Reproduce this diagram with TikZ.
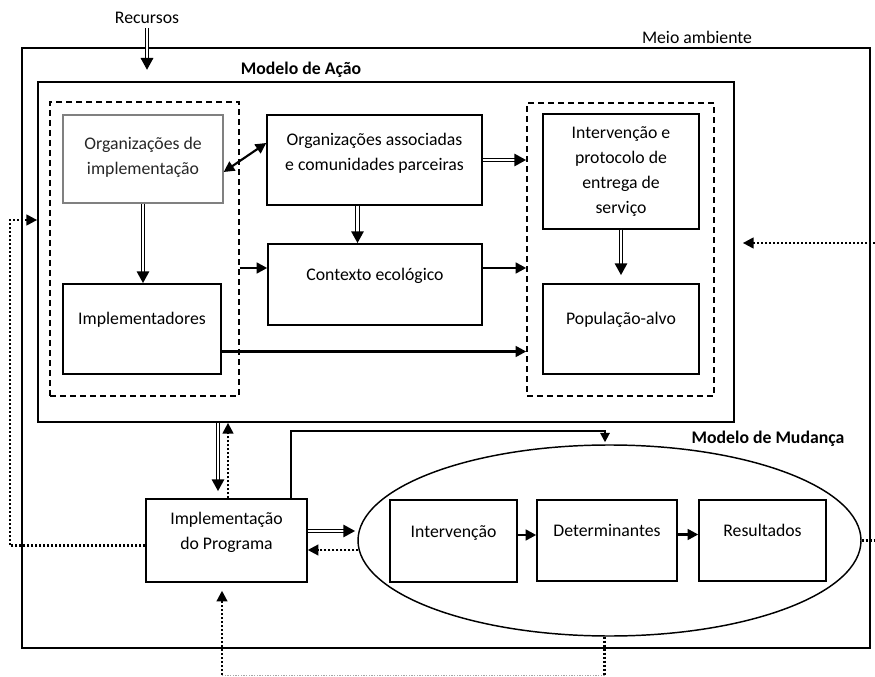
\documentclass[tikz,border=0pt]{standalone}
\usepackage{fontspec}
\setmainfont{Carlito}
\usetikzlibrary{arrows.meta,shapes.geometric,calc,decorations.markings}

\begin{document}
\begin{tikzpicture}[x=0.75pt,y=-0.75pt,
  font=\fontsize{13.3}{18.75}\selectfont,
  box/.style={rectangle,draw=black,line width=1.1pt,align=center,inner sep=0pt},
  wh/.style 2 args={minimum width=#1*0.75pt,minimum height=#2*0.75pt},
  lift/.style={text height=9pt,text depth=#1},
  group/.style={rectangle,draw=black,line width=1.1pt,dash pattern=on 4.5pt off 3pt,inner sep=0pt},
  frame/.style={rectangle,draw=black,line width=1.3pt,inner sep=0pt},
  title/.style={font=\fontsize{13.3}{16}\selectfont\bfseries},
  to/.style={-{Triangle[length=8pt,width=8pt]},line width=1.9pt},
  dbl/.style={double,double distance=1.6pt,line width=0.75pt,shorten >=6pt,
    postaction={decorate,decoration={markings,
      mark=at position 1 with {\arrow{Triangle[length=9pt,width=9pt]}}}}},
  dots/.style={line width=1.6pt,dash pattern=on 1.6pt off 1.4pt},
  fb/.style={dots,-{Triangle[length=8pt,width=8pt]}}]

  \useasboundingbox (0,0) rectangle (875,677);

  % environment and the two models
  \node (recursos) at (147,18) {Recursos};
  \node (meiolbl) at (697,37) {Meio ambiente};
  \node[frame,wh={848}{600}] (meio) at (446,348) {};
  \node[frame,wh={696}{340}] (acao) at (386,252) {};
  \node[title] (acaolbl) at (301,70) {Modelo de Ação};
  \node[group,wh={189}{294}] (grpL) at (144.5,249) {};
  \node[group,wh={187}{293}] (grpR) at (620.5,249.5) {};

  \node[box,draw=black!50,text=black!85,line width=1pt,wh={160}{88},text depth=4pt] (orgimpl) at (143,159) {Organizações de\\implementação};
  \node[box,wh={158}{90},lift=15pt] (impl) at (142,329) {Implementadores};
  \node[box,wh={215}{90},text depth=11.5pt] (orgassoc) at (374.5,160) {Organizações associadas\\e comunidades parceiras};
  \node[box,wh={214}{81},lift=15pt] (contexto) at (375,284.5) {Contexto ecológico};
  \node[box,wh={156}{115}] (intprot) at (621,171.5) {Intervenção e\\protocolo de\\entrega de\\serviço};
  \node[box,wh={156}{90},lift=15pt] (populacao) at (621,329) {População-alvo};

  \node[title] (mudlbl) at (768,439) {Modelo de Mudança};
  \node[ellipse,draw,line width=1.1pt,inner sep=0pt,wh={503}{191}] (mudanca) at (609.5,540.5) {};
  \node[box,wh={161}{83},text depth=15pt] (implprog) at (226.5,540.5) {Implementação\\do Programa};
  \node[box,wh={127}{82},lift=15pt] (intervencao) at (453.5,541) {Intervenção};
  \node[box,wh={140}{81},lift=15pt] (determinantes) at (607,540.5) {Determinantes};
  \node[box,wh={127}{81},lift=15pt] (resultados) at (762.5,540.5) {Resultados};

  % action model links
  \coordinate (recin) at (147,70);
  \draw[dbl] (recursos) -- (recin);
  \draw[dbl] (orgimpl.south) -- (orgimpl.south |- impl.north);
  \draw[{Triangle[length=8pt,width=8pt]}-{Triangle[length=8pt,width=8pt]},line width=1.6pt]
    ($(orgimpl.east)+(0,13)$) -- ($(orgassoc.west)+(0,-17)$);
  \draw[dbl] (orgassoc.east) -- (orgassoc.east -| grpR.west);
  \draw[dbl] ($(orgassoc.south)+(-17,0)$) -- ($(orgassoc.south |- contexto.north)+(-17,0)$);
  \draw[to] ($(grpL.east |- contexto.west)+(0,-16.5)$) -- ($(contexto.west)+(0,-16.5)$);
  \draw[to] ($(contexto.east)+(0,-16.5)$) -- ($(grpR.west |- contexto.east)+(0,-16.5)$);
  \draw[to] ($(impl.east)+(0,22.5)$) -- ($(grpR.west |- impl.east)+(0,22.5)$);
  \draw[dbl] (intprot) -- ($(populacao.north)+(0,-8)$);

  % feedback and program links
  \coordinate (rin) at (875,243);
  \draw[fb] (rin) -- ($(rin -| acao.east)+(8,0)$);
  \coordinate (lft) at (10,220);
  \draw[fb] ($(implprog.west)+(0,5)$) -| (lft) -- (lft -| acao.west);
  \draw[dbl] ($(implprog.north |- acao.south)+(-8.5,0)$) -- ($(implprog.north)+(-8.5,-7)$);
  \draw[fb] ($(implprog.north)+(1.5,0)$) -- ($(implprog.north |- acao.south)+(1.5,0)$);
  \draw[line width=1.4pt,-{Triangle[length=7pt,width=7pt]}]
    ($(implprog.north east)+(-17,0)$) -- ++(0,-67) -| ($(mudanca.north)+(-4.5,-2)$);
  \draw[dbl] ($(implprog.east)+(0,-9.5)$) -- ($(mudanca.west |- implprog.east)+(-2,-9.5)$);
  \draw[fb] ($(mudanca.west)+(1,9.5)$) -- ($(implprog.east)+(0,9.5)$);
  \draw[to] ($(intervencao.east)+(0,-6)$) -- ($(determinantes.west |- intervencao.east)+(0,-6)$);
  \draw[to] ($(determinantes.east)+(0,-6)$) -- ($(resultados.west |- determinantes.east)+(0,-6)$);
  \coordinate (rout) at (875,546);
  \draw[dots] (mudanca.east) -- (mudanca.east -| rout);
  \coordinate (bot) at (222,675);
  \draw[dots] ($(mudanca.south)+(-5,0)$) -- ($(mudanca.south |- bot)+(-5,0)$);
  \draw[gray!70,line width=0.6pt,dash pattern=on 1pt off 1pt] ($(mudanca.south |- bot)+(-5,0)$) -- (bot);
  \draw[fb] (bot) -- ($(bot |- implprog.south)+(0,8)$);
\end{tikzpicture}
\end{document}
